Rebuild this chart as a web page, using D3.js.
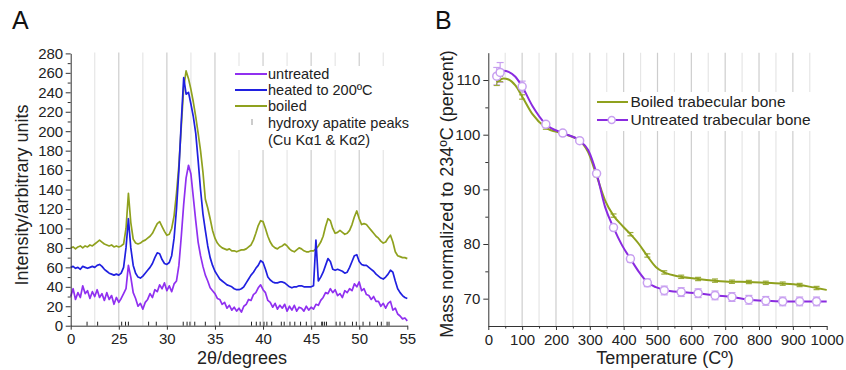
<!DOCTYPE html>
<html><head><meta charset="utf-8">
<script src="https://cdn.jsdelivr.net/npm/d3@7"></script>
<style>
body{margin:0;background:#fff;}
svg{display:block;font-family:"Liberation Sans",Arial,sans-serif;}
.axis path,.axis line{stroke:#333;stroke-width:1;}
.axis text{font-size:15px;fill:#222;font-family:"Liberation Sans",Arial,sans-serif;}
</style></head><body>
<svg id="c" width="846" height="370"></svg>
<script>
// ---------- Panel A data (2θ grid 20..55 step 0.25) ----------
const thetaStart = 20, thetaStep = 0.25;
const boiled = [
 80,81,79,81, 82,80,82,81, 83,82,84,86, 88,86,84,83, 82,83,81,82,
 81,82,84,100, 136,106,89,85, 84,85,87,88, 90,92,95,100, 105,107,102,97,
 93,94,100,113, 136,165,205,245, 262,254,243,230, 215,198,180,158, 130,121,110,98,
 90,85,82,80, 79,78,79,77, 77,76,77,78, 78,79,81,83, 88,95,103,108,
 107,100,92,86, 82,80,79,81, 82,84,82,79, 77,76,78,80, 79,77,76,76,
 77,77,79,82, 86,92,102,110, 108,100,95,96, 98,96,94,95, 98,104,112,118,
 110,104,105,104, 101,98,95,92, 90,87,85,86, 90,93,86,76, 72,71,70,70, 69];
const heated = [
 60,61,59,60, 58,61,60,59, 60,61,60,62, 63,61,58,56, 54,53,52,53,
 52,54,60,80, 110,80,62,54, 50,49,51,54, 57,60,64,70, 75,74,68,64,
 63,65,72,90, 120,160,210,255, 238,240,228,215, 198,170,140,115, 98,82,70,62,
 56,52,48,46, 44,42,41,40, 38,37,37,38, 40,44,48,52, 55,59,62,67,
 65,58,50,47, 45,44,44,45, 45,44,42,40, 39,40,40,41, 41,40,40,40,
 40,41,88,46, 50,55,62,69, 66,58,57,58, 57,56,54,55, 60,66,72,73,
 66,63,62,62, 60,58,56,53, 51,49,48,50, 53,57,55,46, 38,34,31,29, 28];
const untreated = [
 30,38,27,34, 29,41,33,36, 28,35,30,37, 29,33,26,34, 27,31,22,29,
 24,28,33,38, 62,50,34,28, 20,23,17,24, 27,33,29,37, 35,42,38,44,
 36,41,35,43, 46,62,92,125, 152,165,156,132, 108,86,72,61, 52,46,39,36,
 33,28,27,22, 24,18,21,16, 19,15,18,14, 20,22,27,26, 32,34,39,42,
 37,34,26,24, 19,23,17,21, 18,22,15,20, 16,21,15,19, 18,15,20,16,
 19,17,22,21, 26,29,34,33, 38,34,37,31, 33,29,36,34, 38,36,43,40,
 45,36,38,32, 31,27,30,25, 25,20,23,18, 23,25,16,18, 12,10,7,8, 5];
const haPeaks = [21.7,22.8,25.3,25.7,26.0,28.1,28.9,31.7,32.1,32.4,32.9,34.0,35.5,38.8,39.3,39.7,40.1,40.4,40.9,41.9,42.2,42.8,43.3,43.9,44.5,45.4,46.1,46.2,46.4,46.6,47.6,48.0,48.5,49.3,49.7,50.4,51.1,51.9,52.3,52.9,53.1];
const xTickValsA = [20,25,30,35,40,45,50,55];
const xTickLabelsA = ["0","25","30","35","40","45","50","55"];
const yTickValsA = [0,20,40,60,80,100,120,140,160,180,200,220,240,260,280];
const legendA = ["untreated","heated to 200ºC","boiled"];

// ---------- Panel B data ----------
const markerT = [25,35,100,170,220,270,320,370,420,470,520,570,620,670,720,770,820,870,920,970];
const untreatedM = [110.7,111.4,108.8,101.9,100.3,98.9,92.9,83.0,77.3,72.9,71.5,71.2,71.0,70.6,70.3,69.8,69.6,69.5,69.5,69.5];
const untreatedErr = [1.6,1.8,1.0,0.4,0.3,0.3,0.3,0.5,0.6,0.7,0.8,0.8,0.8,0.8,0.8,0.8,0.8,0.8,0.8,0.8];
const boiledM = [109.7,110.2,106.9,101.3,100.2,98.9,92.6,85.2,81.8,77.9,74.8,74.0,73.6,73.3,73.1,73.05,72.9,72.75,72.5,71.95];
const boiledErr = [0.7,0.5,0.4,0.3,0.3,0.3,0.3,0.3,0.3,0.3,0.3,0.3,0.3,0.3,0.3,0.3,0.3,0.3,0.3,0.3];
const curveT = [25,45,60,80,100,130,170,220,270,295,320,345,370,395,420,445,470,495,520,570,620,670,720,770,820,870,920,970,1000];
const untreatedCurve = [111.0,111.7,111.5,110.6,108.8,105.3,101.9,100.3,98.9,97.2,92.9,86.8,83.0,79.8,77.3,74.9,73.0,72.1,71.6,71.2,71.0,70.6,70.3,69.8,69.6,69.5,69.5,69.5,69.5];
const boiledCurve = [109.6,110.3,110.1,109.0,107.0,103.8,101.3,100.2,98.9,96.8,92.5,88.0,85.2,83.4,81.8,80.0,77.8,75.8,74.8,74.0,73.6,73.3,73.1,73.05,72.9,72.75,72.5,71.95,71.6];
const xTickValsB = [0,100,200,300,400,500,600,700,800,900,1000];
const yTickValsB = [70,80,90,100,110];
const legendB = ["Boiled trabecular bone","Untreated trabecular bone"];

const C_PURPLE = "#9030f0", C_BLUE = "#2020e0", C_OLIVE = "#8fa11e";
const C_PURPLE_B = "#8a2be0", C_MARK = "#c8a0f0";

const svg = d3.select("#c");

// ================= Panel A =================
const xA = d3.scaleLinear().domain([20,55]).range([70.7,407.3]);
const yA = d3.scaleLinear().domain([0,280]).range([325.7,53.4]);

const gridA = d3.range(22.5, 53, 2.5);
svg.append("g").selectAll("line").data(gridA).join("line")
  .attr("x1", d=>xA(d)).attr("x2", d=>xA(d)).attr("y1", yA(280)-1).attr("y2", yA(0))
  .attr("stroke", d => (d % 5 === 0) ? "#cdcdcd" : "#e6e6e6").attr("stroke-width",1.2);

svg.append("rect").attr("x",232).attr("y",66).attr("width",176).attr("height",84).attr("fill","#fff");

const lineA = d3.line().x((d,i)=>xA(thetaStart + i*thetaStep)).y(d=>yA(d));
[[boiled,C_OLIVE],[heated,C_BLUE],[untreated,C_PURPLE]].forEach(([arr,col])=>{
  svg.append("path").datum(arr).attr("d", lineA).attr("fill","none")
    .attr("stroke", col).attr("stroke-width",1.7).attr("stroke-linejoin","round");
});

svg.append("g").attr("class","axis").attr("transform",`translate(${xA(20)},0)`)
  .call(d3.axisLeft(yA).tickValues(yTickValsA).tickSize(5).tickSizeOuter(0).tickPadding(2.5));
svg.append("g").attr("class","axis").attr("transform",`translate(${xA(20)},0)`)
  .call(d3.axisLeft(yA).tickValues(d3.range(10,280,20)).tickSize(3).tickSizeOuter(0).tickFormat(""))
  .select(".domain").remove();
svg.append("g").attr("class","axis").attr("transform",`translate(0,${yA(0)})`)
  .call(d3.axisBottom(xA).tickValues(xTickValsA).tickFormat((d,i)=>xTickLabelsA[i]).tickSize(4).tickSizeOuter(0).tickPadding(4));

svg.append("g").selectAll("line").data(haPeaks).join("line")
  .attr("x1", d=>xA(d)).attr("x2", d=>xA(d)).attr("y1", yA(0)-4).attr("y2", yA(0))
  .attr("stroke","#222").attr("stroke-width",1);

svg.append("text").attr("x",12).attr("y",29).attr("font-size",25).attr("fill","#111").text("A");
svg.append("text").attr("transform","translate(28,195) rotate(-90)").attr("text-anchor","middle")
  .attr("font-size",18).attr("fill","#222").text("Intensity/arbitrary units");
svg.append("text").attr("x",242).attr("y",364).attr("text-anchor","middle")
  .attr("font-size",18).attr("fill","#222").text("2θ/degrees");

const legA = svg.append("g");
const legAcols = [C_PURPLE, C_BLUE, C_OLIVE];
const legAy = [74, 90, 106];
legendA.forEach((t,i)=>{
  legA.append("line").attr("x1",235).attr("x2",267).attr("y1",legAy[i]).attr("y2",legAy[i])
    .attr("stroke",legAcols[i]).attr("stroke-width",2);
  legA.append("text").attr("x",268).attr("y",legAy[i]+4.6).attr("font-size",14.5).attr("fill","#222").text(t);
});
legA.append("line").attr("x1",252).attr("x2",252).attr("y1",119).attr("y2",125).attr("stroke","#bbb").attr("stroke-width",1.5);
legA.append("text").attr("x",268).attr("y",128).attr("font-size",14.5).attr("fill","#222").text("hydroxy apatite peaks");
legA.append("text").attr("x",268).attr("y",145).attr("font-size",14.5).attr("fill","#222").text("(Cu Kα1 & Kα2)");

// ================= Panel B =================
const xB = d3.scaleLinear().domain([0,1000]).range([488.3,826.7]);
const yB = d3.scaleLinear().domain([65,115]).range([326,52.7]);

const gridB = d3.range(50, 1000, 50);
svg.append("g").selectAll("line").data(gridB).join("line")
  .attr("x1", d=>xB(d)).attr("x2", d=>xB(d)).attr("y1", yB(115)).attr("y2", yB(65))
  .attr("stroke", d => (d % 100 === 0) ? "#cdcdcd" : "#e6e6e6").attr("stroke-width",1.2);

svg.append("rect").attr("x",594).attr("y",92).attr("width",232).attr("height",39).attr("fill","#fff");

const eb = svg.append("g");
markerT.forEach((t,i)=>{
  const x = xB(t), y0 = yB(untreatedM[i]-untreatedErr[i]), y1 = yB(untreatedM[i]+untreatedErr[i]);
  eb.append("line").attr("x1",x).attr("x2",x).attr("y1",y0).attr("y2",y1).attr("stroke",C_MARK).attr("stroke-width",1.2);
  [y0,y1].forEach(yy=>eb.append("line").attr("x1",x-3.5).attr("x2",x+3.5).attr("y1",yy).attr("y2",yy).attr("stroke",C_MARK).attr("stroke-width",1.2));
  const b0 = yB(boiledM[i]-boiledErr[i]), b1 = yB(boiledM[i]+boiledErr[i]);
  eb.append("line").attr("x1",x).attr("x2",x).attr("y1",b0).attr("y2",b1).attr("stroke","#9aab3a").attr("stroke-width",1.2);
  [b0,b1].forEach(yy=>eb.append("line").attr("x1",x-3).attr("x2",x+3).attr("y1",yy).attr("y2",yy).attr("stroke","#9aab3a").attr("stroke-width",1.2));
});

const lineB = d3.line().x((d,i)=>xB(curveT[i])).y(d=>yB(d)).curve(d3.curveMonotoneX);
svg.append("path").datum(boiledCurve).attr("d",lineB).attr("fill","none").attr("stroke",C_OLIVE).attr("stroke-width",2);
svg.append("path").datum(untreatedCurve).attr("d",lineB).attr("fill","none").attr("stroke",C_PURPLE_B).attr("stroke-width",2);

svg.append("g").selectAll("circle").data(untreatedM).join("circle")
  .attr("cx",(d,i)=>xB(markerT[i])).attr("cy",d=>yB(d)).attr("r",4)
  .attr("fill","#fff").attr("stroke",C_MARK).attr("stroke-width",1.5);

svg.append("g").attr("class","axis").attr("transform",`translate(${xB(0)},0)`)
  .call(d3.axisLeft(yB).tickValues(yTickValsB).tickSize(5).tickSizeOuter(0).tickPadding(3));
svg.append("g").attr("class","axis").attr("transform",`translate(${xB(0)},0)`)
  .call(d3.axisLeft(yB).tickValues([75,85,95,105]).tickSize(3).tickSizeOuter(0).tickFormat(""))
  .select(".domain").remove();
svg.append("g").attr("class","axis").attr("transform",`translate(0,${yB(65)})`)
  .call(d3.axisBottom(xB).tickValues(xTickValsB).tickFormat(d3.format("d")).tickSize(4).tickSizeOuter(0).tickPadding(4));
svg.append("g").attr("class","axis").attr("transform",`translate(0,${yB(65)})`)
  .call(d3.axisBottom(xB).tickValues(d3.range(50,1000,100)).tickSize(2.5).tickSizeOuter(0).tickFormat(""))
  .select(".domain").remove();

svg.append("text").attr("x",435).attr("y",29).attr("font-size",25).attr("fill","#111").text("B");
svg.append("text").attr("transform","translate(453,194) rotate(-90)").attr("text-anchor","middle")
  .attr("font-size",18).attr("fill","#222").text("Mass normalized to 234ºC (percent)");
svg.append("text").attr("x",665).attr("y",364).attr("text-anchor","middle")
  .attr("font-size",18).attr("fill","#222").text("Temperature (Cº)");

const legB = svg.append("g");
legB.append("line").attr("x1",597).attr("x2",628).attr("y1",102).attr("y2",102).attr("stroke",C_OLIVE).attr("stroke-width",2);
legB.append("text").attr("x",630.5).attr("y",107).attr("font-size",15.5).attr("fill","#222").text(legendB[0]);
legB.append("line").attr("x1",597).attr("x2",628).attr("y1",120).attr("y2",120).attr("stroke",C_PURPLE_B).attr("stroke-width",2);
legB.append("circle").attr("cx",611.7).attr("cy",120).attr("r",3.5).attr("fill","#fff").attr("stroke",C_MARK).attr("stroke-width",1.5);
legB.append("text").attr("x",630.5).attr("y",125).attr("font-size",15.5).attr("fill","#222").text(legendB[1]);
</script>
</body></html>
